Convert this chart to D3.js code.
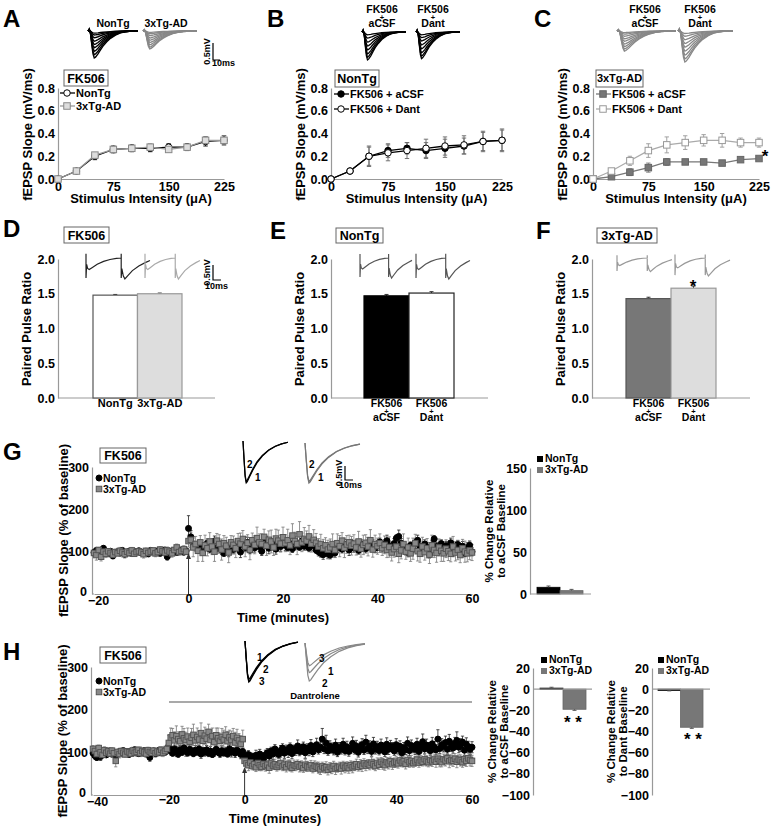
<!DOCTYPE html>
<html><head><meta charset="utf-8">
<script src="https://cdn.jsdelivr.net/npm/d3@7"></script>
<style>body{margin:0;background:#fff;}svg{display:block;}</style>
</head><body>
<script>
// ---------------- DATA ----------------
const stim = [0,25,50,75,100,125,150,175,200,225];
const stimTicks = [0,75,150,225];
const slopeTicks = [0,0.2,0.4,0.6,0.8];
// Panel A (FK506)
const aNonTg    = [0,0.07,0.20,0.26,0.27,0.27,0.28,0.28,0.33,0.34];
const aNonTgErr = [0,0.01,0.03,0.03,0.03,0.03,0.03,0.03,0.04,0.04];
const aTg       = [0,0.07,0.21,0.26,0.27,0.28,0.26,0.28,0.34,0.34];
const aTgErr    = [0,0.01,0.02,0.02,0.02,0.03,0.02,0.02,0.03,0.04];
// Panel B (NonTg)
const bAcsf     = [0,0.07,0.20,0.25,0.27,0.25,0.27,0.29,0.33,0.34];
const bAcsfErr  = [0,0.01,0.09,0.06,0.05,0.07,0.08,0.07,0.08,0.10];
const bDant     = [0,0.07,0.20,0.23,0.25,0.27,0.29,0.30,0.33,0.34];
const bDantErr  = [0,0.01,0.08,0.07,0.07,0.08,0.08,0.08,0.09,0.09];
// Panel C (3xTg-AD)
const cAcsf     = [0,0.02,0.06,0.10,0.15,0.15,0.15,0.14,0.17,0.18];
const cAcsfErr  = [0,0.01,0.03,0.04,0.03,0.02,0.02,0.02,0.01,0.01];
const cDant     = [0,0.07,0.16,0.25,0.30,0.32,0.34,0.34,0.32,0.32];
const cDantErr  = [0,0.02,0.04,0.06,0.07,0.06,0.05,0.06,0.04,0.04];
// Paired pulse panels
const ppTicks = [0,0.5,1.0,1.5,2.0];
const dCats = ["NonTg","3xTg-AD"];
const dVals = [1.48,1.50];
const dErr  = [0.01,0.01];
const efCats = [["FK506","+","aCSF"],["FK506","+","Dant"]];
const eVals = [1.47,1.51];
const eErr  = [0.02,0.02];
const fVals = [1.43,1.58];
const fErr  = [0.02,0.03];
// Panel G time course (-20..60 min, 0.5 min steps)
const gTicks = [-20,0,20,40,60];
const slopePctTicks = [0,100,200,300];
const gNonTg = [98,103,102,95,108,99,96,101,90,97,
100,97,103,94,99,101,96,98,100,102,
97,99,101,95,103,100,98,102,96,100,
104,88,99,101,103,98,100,104,99,102,
155,135,115,112,108,118,103,110,120,106,
112,125,108,117,104,96,111,100,119,105,
114,108,99,118,110,122,104,115,109,120,
112,101,117,125,108,114,121,106,118,112,
124,115,110,119,107,122,116,111,125,113,
118,109,121,114,104,100,96,93,98,95,
92,101,97,110,114,106,118,112,104,120,
109,115,103,118,111,107,121,113,117,108,
115,123,110,118,126,114,106,119,132,136,
120,112,104,98,115,109,121,127,113,105,
118,110,94,116,130,112,106,119,102,114,
108,121,99,111,117,104,113,96,109,115,
100];
const gNonTgErr = [6,5,7,4,6,5,8,5,6,4,
5,7,5,6,4,6,5,7,5,6,
4,6,5,7,5,6,4,5,6,7,
5,8,6,5,7,4,6,5,7,6,
30,15,10,8,12,9,11,7,10,9,
9,12,8,10,11,7,9,12,8,10,
11,9,13,8,10,12,9,11,10,8,
12,10,9,11,13,8,10,12,9,11,
10,12,8,11,9,13,10,8,12,9,
11,9,10,12,8,10,9,11,8,10,
9,11,10,8,12,9,11,10,13,9,
10,12,9,11,8,10,12,9,11,10,
12,9,11,10,13,9,10,12,8,15,
11,9,12,10,8,11,9,12,10,9,
10,12,9,11,8,10,12,9,11,10,
9,11,10,12,9,10,11,8,12,10,
10];
const gTg = [97,92,104,88,100,95,101,97,93,99,
96,102,98,94,100,97,103,95,99,101,
98,94,102,97,100,103,96,99,105,101,
98,103,100,96,104,110,99,102,106,100,
125,128,110,118,102,122,97,115,108,124,
112,100,126,118,105,120,114,98,122,116,
108,125,119,130,112,121,104,127,116,132,
122,118,135,114,128,124,110,131,126,119,
134,120,127,115,138,125,118,141,122,130,
126,136,119,128,121,112,118,108,115,105,
110,118,104,120,113,126,109,117,122,114,
119,110,124,107,116,121,112,127,105,118,
113,120,108,116,104,111,98,106,112,95,
103,118,100,110,96,107,120,101,95,112,
99,108,93,115,104,97,110,102,96,107,
101,95,112,98,104,92,108,100,96,103,
98];
const gTgErr = [8,12,6,10,7,9,6,8,10,7,
6,8,7,9,6,8,7,5,8,6,
7,9,6,8,7,5,8,6,7,9,
6,8,7,9,6,8,7,6,8,7,
14,18,22,18,25,16,20,24,18,21,
19,23,17,22,25,18,20,24,16,21,
22,18,25,20,24,19,23,17,21,26,
20,24,18,23,21,27,19,22,25,20,
24,20,26,22,28,21,25,30,22,27,
23,26,20,24,22,19,23,21,18,22,
20,24,18,22,25,19,23,21,17,22,
21,18,24,20,23,19,22,25,18,21,
19,22,17,21,18,24,20,19,23,21,
20,24,18,22,19,25,21,23,20,22,
19,23,21,24,18,22,20,25,19,21,
22,19,24,20,23,18,21,25,20,22,
19];
// Panel G bar summary
const groups = ["NonTg","3xTg-AD"];
const gBarVals = [8,4];
const gBarErr  = [1.5,1.5];
const gBarTicks = [0,50,100,150];
// Panel H time course (-40..60 min, 0.5 min steps)
const hTicks = [-40,-20,0,20,40,60];
const hNonTg = [98,92,88,95,90,101,97,94,99,103,
96,100,93,97,102,99,104,98,101,95,
103,99,106,100,97,102,99,104,101,98,
88,100,103,97,101,105,99,102,100,104,
115,104,98,108,101,96,106,100,110,103,
99,107,102,97,105,101,108,96,104,100,
106,98,103,95,100,107,101,97,104,99,
102,96,108,100,103,98,105,101,95,102,
92,85,95,88,90,83,93,87,96,90,
86,94,99,91,103,96,108,100,95,104,
110,98,106,101,112,97,108,104,115,102,
107,113,99,110,104,116,101,109,118,106,
112,131,108,122,103,114,110,105,117,100,
111,107,119,104,113,102,109,121,106,115,
100,112,118,105,124,109,114,102,120,108,
113,104,117,110,101,119,107,115,112,103,
118,108,114,99,111,106,121,104,116,110,
107,119,102,113,125,108,117,111,104,120,
112,106,131,109,118,114,123,107,126,115,
110,121,128,112,117,124,105,119,113,107,
112];
const hNonTgErr = [6,8,7,5,9,6,7,5,8,6,
7,5,6,8,5,7,6,5,7,6,
5,7,6,8,5,6,7,5,6,8,
9,6,5,7,6,5,7,6,5,6,
8,10,7,9,11,8,10,7,9,12,
8,10,9,7,11,8,9,10,7,9,
10,8,11,7,9,10,8,9,11,8,
10,7,9,11,8,10,9,7,10,8,
10,12,9,11,8,10,12,9,11,10,
9,11,10,12,9,13,10,11,9,12,
10,12,11,13,10,12,9,11,14,10,
12,11,13,10,12,14,11,12,15,10,
12,25,11,18,10,13,12,11,14,10,
12,11,14,10,13,11,12,15,10,13,
11,12,14,10,16,12,13,11,15,12,
13,10,14,12,11,15,12,13,11,10,
14,12,13,10,12,11,15,12,13,11,
12,14,11,13,18,12,14,12,11,15,
13,12,22,12,14,13,15,12,16,13,
12,14,20,13,15,14,12,15,13,12,
13];
const hTg = [108,103,96,110,100,94,105,99,102,97,
104,98,80,101,96,103,99,95,102,100,
97,104,99,101,106,98,103,100,97,105,
101,99,104,98,102,100,106,99,103,108,
122,135,140,128,138,131,126,142,133,129,
137,125,134,141,128,136,130,145,127,139,
132,148,129,138,124,140,133,127,136,130,
141,126,135,129,138,123,134,128,120,131,
80,74,70,76,68,72,65,75,70,66,
73,68,71,64,74,69,72,66,70,75,
67,71,65,73,69,64,70,68,72,66,
69,63,71,67,65,70,62,68,66,64,
60,67,63,65,59,66,62,68,61,64,
66,62,69,64,67,63,70,65,68,72,
66,71,68,74,69,73,70,76,72,68,
75,71,78,73,70,77,74,79,72,76,
78,74,81,76,79,73,82,77,80,75,
79,83,76,81,78,84,80,77,82,79,
83,78,85,80,77,84,81,86,79,82,
80,85,78,83,81,77,84,80,86,82,
80];
const hTgErr = [8,6,9,7,10,6,8,7,9,6,
7,8,14,6,9,7,8,6,7,9,
6,8,7,9,6,8,7,6,9,7,
8,6,7,9,6,8,7,9,6,8,
18,22,16,20,24,17,21,19,23,18,
20,16,22,25,18,21,19,24,17,20,
22,18,23,19,21,17,24,18,20,22,
19,23,17,21,18,24,20,16,19,21,
12,10,13,11,9,12,10,11,13,9,
11,12,10,13,11,9,12,10,11,13,
10,12,11,9,13,10,12,11,10,12,
11,10,13,12,9,11,10,12,11,13,
12,10,11,13,12,10,12,11,13,10,
11,13,10,12,11,12,10,13,11,12,
10,12,13,11,12,10,11,13,12,11,
12,11,10,13,12,11,13,10,12,11,
13,11,12,10,13,12,11,12,13,10,
12,13,11,12,10,14,12,11,13,12,
11,13,12,14,11,12,13,11,15,12,
13,12,14,11,13,12,15,13,12,14,
13];
// Panel H bar summaries
const h1Vals = [1,-19];
const h1Err  = [0.8,1];
const h2Vals = [-1,-36];
const h2Err  = [0.6,1];
const hBarTicks = [20,0,-20,-40,-60,-80,-100];
// Representative trace shapes (time ms, normalised amplitude)
const fepspShape = [[0,0],[1,0.08],[2,-0.1],[3,-0.5],[4,-0.85],[5,-1],[6,-0.97],[8,-0.85],[10,-0.7],[12,-0.56],[15,-0.4],[18,-0.27],[22,-0.15],[26,-0.07],[30,-0.03],[35,0],[40,0.01]];
const famANonTg = [0.08,0.15,0.25,0.38,0.5,0.62,0.75,0.88,1.0];
const famATg    = [0.06,0.12,0.2,0.3,0.4,0.5,0.6,0.7,0.78];
const famBAcsf  = [0.1,0.22,0.36,0.5,0.64,0.78,0.9,1.0];
const famBDant  = [0.1,0.2,0.32,0.46,0.6,0.74,0.86,0.95];
const famCAcsf  = [0.05,0.1,0.17,0.25,0.33,0.42,0.5,0.58,0.65];
const famCDant  = [0.08,0.17,0.28,0.4,0.52,0.65,0.78,0.9,1.0];
const ppShape = [[0,0.2],[0,-0.95],[0.4,-0.3],[1,-0.5],[2,-0.55],[4,-0.45],[7,-0.3],[11,-0.16],[15,-0.07],[19,-0.02],[22,0],[22,0.2],[22,-0.95],[22.4,-0.5],[23.3,-0.85],[24.3,-1],[26,-0.85],[29,-0.6],[33,-0.38],[37,-0.22],[40,-0.12]];
const ltpShape = [[0,0],[1,-0.45],[2,-0.85],[3,-1],[4,-0.97],[6,-0.86],[9,-0.7],[13,-0.52],[18,-0.36],[24,-0.22],[30,-0.13],[36,-0.07],[42,-0.03]];
const gTraceAmps = [1.0,0.96];
const hTraceAmpsN = [0.93,0.97,1.0];
const hTraceAmpsT = [0.78,1.0,0.6];

// ---------------- DRAWING ----------------
const W=773,H=828;
const FONT='"Liberation Sans", Arial, Helvetica, sans-serif';
const svg=d3.select('body').append('svg').attr('width',W).attr('height',H)
  .style('font-family',FONT).style('font-weight','bold');
svg.append('rect').attr('width',W).attr('height',H).attr('fill','#fff');

function T(x,y,s,size=13,anchor='start',fill='#000',rot=false){
  const t=svg.append('text').attr('x',x).attr('y',y).text(s)
    .attr('font-size',size).attr('font-weight','bold').attr('text-anchor',anchor).attr('fill',fill);
  if(rot) t.attr('transform',`rotate(-90 ${x} ${y})`);
  return t;
}
function box(x,y,w,h,label,size=12.5){
  svg.append('rect').attr('x',x).attr('y',y).attr('width',w).attr('height',h)
    .attr('fill','#fff').attr('stroke','#666').attr('stroke-width',1);
  T(x+w/2,y+h/2+size*0.36,label,size,'middle');
}
function styleAxis(sel,size){
  sel.attr('font-family',FONT).attr('font-size',size).attr('font-weight','bold');
  sel.select('.domain').attr('stroke','#999').attr('stroke-width',1.2);
  sel.selectAll('text').attr('fill','#000');
  return sel;
}
function mark(g,type,cx,cy,s,fill,stroke){
  if(type==='circle') g.append('circle').attr('cx',cx).attr('cy',cy).attr('r',s/2).attr('fill',fill).attr('stroke',stroke).attr('stroke-width',1);
  else g.append('rect').attr('x',cx-s/2).attr('y',cy-s/2).attr('width',s).attr('height',s).attr('fill',fill).attr('stroke',stroke).attr('stroke-width',1);
}
function errBar(g,x,y1,y2,cap,color,w){
  g.append('line').attr('x1',x).attr('x2',x).attr('y1',y1).attr('y2',y2).attr('stroke',color).attr('stroke-width',w);
  [y1,y2].forEach(yy=>g.append('line').attr('x1',x-cap).attr('x2',x+cap).attr('y1',yy).attr('y2',yy).attr('stroke',color).attr('stroke-width',w));
}
function traces(shape,amps,xr,yr,color,w=1){
  const x=d3.scaleLinear().domain(d3.extent(shape,d=>d[0])).range(xr);
  const y=d3.scaleLinear().domain([-1,0]).range(yr);
  const line=d3.line().x(d=>x(d[0])).y(d=>y(d[1]));
  amps.forEach(a=>{
    svg.append('path').attr('d',line(shape.map(p=>[p[0],p[1]*a]))).attr('fill','none')
      .attr('stroke',color).attr('stroke-width',w);
  });
}
function scaleBar(x,yTop,yBot,xRight,txtX,txtY){
  svg.append('path').attr('d',`M${x},${yTop}V${yBot}H${xRight}`).attr('fill','none').attr('stroke','#000').attr('stroke-width',1.2);
  T(x-3,(yTop+yBot)/2,'0.5mV',9,'middle','#000',true);
  T(txtX,txtY,'10ms',9,'start');
}

// ---- Stimulus-response panels (A,B,C)
function stimPanel(xr,yr,series,legX,legY,legGap){
  const x=d3.scaleLinear().domain([0,225]).range(xr);
  const y=d3.scaleLinear().domain([0,0.8]).range(yr);
  const g=svg.append('g');
  styleAxis(g.append('g').attr('transform',`translate(${xr[0]},0)`)
    .call(d3.axisLeft(y).tickValues(slopeTicks).tickFormat(d3.format('.1f')).tickSize(0).tickPadding(3)),12.5);
  styleAxis(g.append('g').attr('transform',`translate(0,${yr[0]})`)
    .call(d3.axisBottom(x).tickValues(stimTicks).tickFormat(d3.format('d')).tickSize(0).tickPadding(3)),12.5);
  series.forEach((s,k)=>{
    stim.forEach((d,i)=>{ if(s.err[i]>0) errBar(g,x(d),y(s.vals[i]-s.err[i]),y(s.vals[i]+s.err[i]),2.2,s.errColor,0.9); });
  });
  series.forEach((s,k)=>{
    g.append('path').attr('d',d3.line()(stim.map((d,i)=>[x(d),y(s.vals[i])]))).attr('fill','none').attr('stroke',s.line).attr('stroke-width',1.3);
    stim.forEach((d,i)=>mark(g,s.type,x(d),y(s.vals[i]),6.5,s.fill,s.stroke));
    const ly=legY+k*legGap;
    g.append('line').attr('x1',legX).attr('x2',legX+15).attr('y1',ly).attr('y2',ly).attr('stroke',s.line).attr('stroke-width',1.3);
    mark(g,s.type,legX+7,ly,6.5,s.fill,s.stroke);
    T(legX+16,ly+4,s.name,11);
  });
  T((xr[0]+xr[1])/2,203,'Stimulus Intensity (μA)',13,'middle');
  T(xr[0]-26,(yr[0]+yr[1])/2+1,'fEPSP Slope (mV/ms)',13,'middle','#000',true);
}

// A
T(3,27,'A',24);
T(113,27,'NonTg',10.5,'middle'); T(166,27,'3xTg-AD',10.5,'middle');
traces(fepspShape,famANonTg,[88,138],[58,31],'#000',1.4);
traces(fepspShape,famATg,[143,197],[54,31],'#888',1.4);
scaleBar(213,43,60,220,212,66);
box(64,70,44,16,'FK506');
stimPanel([58,224],[179,88],[
  {vals:aNonTg,err:aNonTgErr,type:'circle',fill:'#fff',stroke:'#000',line:'#000',errColor:'#000',name:'NonTg'},
  {vals:aTg,err:aTgErr,type:'square',fill:'#ddd',stroke:'#888',line:'#999',errColor:'#888',name:'3xTg-AD'}
],60,93,13);

// B
T(267,27,'B',24);
[[382,'aCSF'],[433,'Dant']].forEach(([cx,l])=>{T(cx,13,'FK506',10.5,'middle');T(cx,19.5,'+',7.5,'middle');T(cx,27,l,10.5,'middle');});
traces(fepspShape,famBAcsf,[362,406],[60,32],'#000',1.3);
traces(fepspShape,famBDant,[416,460],[60,32],'#000',1.3);
box(335,70,44,17,'NonTg');
stimPanel([331,502],[179,88],[
  {vals:bAcsf,err:bAcsfErr,type:'circle',fill:'#000',stroke:'#000',line:'#000',errColor:'#666',name:'FK506 + aCSF'},
  {vals:bDant,err:bDantErr,type:'circle',fill:'#fff',stroke:'#000',line:'#000',errColor:'#666',name:'FK506 + Dant'}
],334,94,15);

// C
T(534,27,'C',24);
[[645,'aCSF'],[700,'Dant']].forEach(([cx,l])=>{T(cx,13,'FK506',10.5,'middle');T(cx,19.5,'+',7.5,'middle');T(cx,27,l,10.5,'middle');});
traces(fepspShape,famCAcsf,[617,676],[62,31],'#888',1.3);
traces(fepspShape,famCDant,[678,733],[62,31],'#888',1.3);
box(596,70,47,17,'3xTg-AD',11);
stimPanel([593,759],[179,88],[
  {vals:cAcsf,err:cAcsfErr,type:'square',fill:'#777',stroke:'#666',line:'#777',errColor:'#777',name:'FK506 + aCSF'},
  {vals:cDant,err:cDantErr,type:'square',fill:'#fff',stroke:'#999',line:'#aaa',errColor:'#999',name:'FK506 + Dant'}
],596,94,15);
T(765,162,'*',17,'middle');

// ---- Paired pulse panels (D,E,F)
function ppPanel(axisX,bandR,axisEnd,cats,vals,errs,fills,strokes,labelFn){
  const y=d3.scaleLinear().domain([0,2]).range([398,259]);
  const x=d3.scaleBand().domain(d3.range(cats.length)).range(bandR).padding(0);
  const g=svg.append('g');
  styleAxis(g.append('g').attr('transform',`translate(${axisX},0)`)
    .call(d3.axisLeft(y).tickValues(ppTicks).tickFormat(d3.format('.1f')).tickSize(0).tickPadding(3)),12.5);
  g.append('line').attr('x1',axisX).attr('x2',axisEnd).attr('y1',398).attr('y2',398).attr('stroke','#999').attr('stroke-width',1.2);
  vals.forEach((v,i)=>{
    const cx=x(i)+x.bandwidth()/2;
    g.append('line').attr('x1',cx).attr('x2',cx).attr('y1',y(v)).attr('y2',y(v+errs[i])).attr('stroke','#333').attr('stroke-width',1);
    g.append('line').attr('x1',cx-2).attr('x2',cx+2).attr('y1',y(v+errs[i])).attr('y2',y(v+errs[i])).attr('stroke','#333').attr('stroke-width',1);
    g.append('rect').attr('x',x(i)).attr('y',y(v)).attr('width',x.bandwidth()).attr('height',398-y(v))
      .attr('fill',fills[i]).attr('stroke',strokes[i]).attr('stroke-width',1.2);
    labelFn(cats[i],cx);
  });
  T(axisX-27,329,'Paired Pulse Ratio',13,'middle','#000',true);
  return {x,y};
}
// D
T(3,237,'D',24);
box(64,227,45,16,'FK506');
traces(ppShape,[1],[86,150],[279,258],'#222',1.2);
traces(ppShape,[1],[145,200],[279,258],'#aaa',1.2);
scaleBar(213,265,280,221,205,289);
ppPanel(58,[93,182],215,dCats,dVals,dErr,['#fff','#ddd'],['#555','#999'],(c,cx)=>T(cx,407,c,11,'middle'));
// E
T(270,239,'E',24);
box(336,228,47,15,'NonTg');
traces(ppShape,[1],[360,412],[278,258],'#555',1.2);
traces(ppShape,[1],[416,470],[279,258],'#555',1.2);
const efLabel=(c,cx)=>{T(cx,407,c[0],10.5,'middle');T(cx,413.5,c[1],7.5,'middle');T(cx,421,c[2],10.5,'middle');};
ppPanel(331,[364,454],488,efCats,eVals,eErr,['#000','#fff'],['#000','#222'],efLabel);
// F
T(536,239,'F',24);
box(597,228,60,15,'3xTg-AD');
traces(ppShape,[0.8],[617,672],[275,258],'#999',1.2);
traces(ppShape,[1],[675,730],[276,258],'#999',1.2);
ppPanel(592,[626,716],750,efCats,fVals,fErr,['#777','#ddd'],['#555','#999'],efLabel);
T(693,292,'*',17,'middle');

// ---- Time course panels (G,H)
function tsPanel(dom,xr,yr,ticks,series,arrowTop){
  const x=d3.scaleLinear().domain(dom).range(xr);
  const y=d3.scaleLinear().domain([0,300]).range(yr);
  const g=svg.append('g');
  const ya=styleAxis(g.append('g').attr('transform',`translate(${xr[0]-2},0)`)
    .call(d3.axisLeft(y).tickValues(slopePctTicks).tickFormat(d3.format('d')).tickSize(0).tickPadding(3)),12.5);
  ya.selectAll('.tick text').filter(d=>d===0).attr('dy','0.1em').attr('x',-5);
  const xa=styleAxis(g.append('g').attr('transform',`translate(0,${yr[0]})`)
    .call(d3.axisBottom(x).tickValues(ticks).tickFormat(d3.format('d')).tickSize(0).tickPadding(0)),12.5);
  xa.selectAll('.tick text').filter(d=>d===dom[0]).attr('dx',4).attr('dy','0.85em');
  g.append('line').attr('x1',xr[0]-2).attr('x2',xr[0]).attr('y1',yr[0]).attr('y2',yr[0]).attr('stroke','#999').attr('stroke-width',1.2);
  series.forEach(s=>{
    s.vals.forEach((v,i)=>{const t=dom[0]+i*0.5; errBar(g,x(t),y(v-s.err[i]),y(v+s.err[i]),1.6,s.errColor,0.8);});
  });
  series.forEach(s=>{
    s.vals.forEach((v,i)=>{const t=dom[0]+i*0.5; mark(g,s.type,x(t),y(v),s.type==='circle'?6:5.5,s.fill,s.stroke);});
  });
  // arrow at time 0
  const ax=x(0);
  g.append('line').attr('x1',ax).attr('x2',ax).attr('y1',yr[0]).attr('y2',arrowTop+4).attr('stroke','#333').attr('stroke-width',1);
  g.append('path').attr('d',`M${ax-2.5},${arrowTop+6}L${ax},${arrowTop}L${ax+2.5},${arrowTop+6}Z`).attr('fill','#333');
  T(x((dom[0]+60)/2+ (dom[0]===-40?-2:0)),yr[0]+28,'Time (minutes)',13,'middle');
  T(xr[0]-26,(yr[0]+yr[1])/2,'fEPSP Slope (% of baseline)',13,'middle','#000',true);
  return {x,y};
}
function tsLegend(x,y){
  const g=svg.append('g');
  mark(g,'circle',x+3,y,6,'#000','#000');
  T(x+7,y+4,'NonTg',10.5);
  mark(g,'square',x+3,y+11,5.5,'#888','#555');
  T(x+7,y+15,'3xTg-AD',10.5);
}
function changeBars(axisX,bandR,axisEnd,dom,yr,ticks,vals,errs,legX,legY,title2){
  const y=d3.scaleLinear().domain(dom).range(yr);
  const x=d3.scaleBand().domain(groups).range(bandR).padding(0);
  const g=svg.append('g');
  styleAxis(g.append('g').attr('transform',`translate(${axisX},0)`)
    .call(d3.axisLeft(y).tickValues(ticks).tickFormat(d3.format('d')).tickSize(0).tickPadding(3)),12.5);
  const y0=y(0);
  groups.forEach((c,i)=>{
    const v=vals[i], cx=x(c)+x.bandwidth()/2, top=Math.min(y(v),y0), h=Math.abs(y(v)-y0);
    g.append('rect').attr('x',x(c)).attr('y',top).attr('width',x.bandwidth()).attr('height',Math.max(h,1.2))
      .attr('fill',i===0?'#000':'#777').attr('stroke',i===0?'#000':'#666').attr('stroke-width',0.8);
    const ye=y(v+(v>=0?errs[i]:-errs[i]));
    g.append('line').attr('x1',cx).attr('x2',cx).attr('y1',y(v)).attr('y2',ye).attr('stroke','#555');
    g.append('line').attr('x1',cx-2).attr('x2',cx+2).attr('y1',ye).attr('y2',ye).attr('stroke','#555');
  });
  g.append('line').attr('x1',axisX).attr('x2',axisEnd).attr('y1',y0).attr('y2',y0).attr('stroke','#999').attr('stroke-width',1.2);
  // legend
  g.append('rect').attr('x',legX).attr('y',legY-6).attr('width',6).attr('height',6).attr('fill','#000');
  T(legX+8,legY,'NonTg',10.5);
  g.append('rect').attr('x',legX).attr('y',legY+5).attr('width',6).attr('height',6).attr('fill','#777');
  T(legX+8,legY+11,'3xTg-AD',10.5);
  const cy=(yr[0]+yr[1])/2;
  T(axisX-37,cy,'% Change Relative',11.5,'middle','#000',true);
  T(axisX-25,cy,title2,11.5,'middle','#000',true);
  return {x,y};
}

// G
T(3,460,'G',24);
box(100,448,46,15,'FK506');
tsPanel([-20,60],[94,472],[594,467],gTicks,[
  {vals:gNonTg,err:gNonTgErr,type:'circle',fill:'#000',stroke:'#000',errColor:'#222'},
  {vals:gTg,err:gTgErr,type:'square',fill:'#888',stroke:'#555',errColor:'#777'}
],553);
tsLegend(96,478);
traces(ltpShape,gTraceAmps,[243,288],[483,441],'#000',1.2);
traces(ltpShape,gTraceAmps,[305,360],[483,443],'#777',1.2);
T(247,468,'2',10); T(255,481,'1',10); T(309,468,'2',10); T(318,481,'1',10);
scaleBar(345,466,480,353,339,488);
changeBars(530,[537,583],591,[0,150],[594,468],gBarTicks,gBarVals,gBarErr,537,462,'to aCSF Baseline');

// H
T(3,660,'H',24);
box(100,647,46,16,'FK506');
tsPanel([-40,60],[93,472],[795,667],hTicks,[
  {vals:hNonTg,err:hNonTgErr,type:'circle',fill:'#000',stroke:'#000',errColor:'#222'},
  {vals:hTg,err:hTgErr,type:'square',fill:'#888',stroke:'#555',errColor:'#777'}
],767);
tsLegend(96,681);
svg.append('line').attr('x1',169).attr('x2',472).attr('y1',702).attr('y2',702).attr('stroke','#555').attr('stroke-width',1.2);
T(315,699,'Dantrolene',9.5,'middle');
traces(ltpShape,hTraceAmpsN,[245,298],[682,641],'#000',1.2);
traces(ltpShape,hTraceAmpsT,[305,365],[681,643],'#888',1.2);
T(257,661,'1',10); T(263,673,'2',10); T(259,685,'3',10);
T(319,662,'3',10); T(328,675,'1',10); T(322,687,'2',10);
changeBars(533,[540,586],592,[-100,20],[795,668],hBarTicks,h1Vals,h1Err,541,663,'to aCSF Baseline');
T(573,728,'* *',17,'middle');
changeBars(652,[658,703],710,[-100,20],[795,668],hBarTicks,h2Vals,h2Err,658,663,'to Dant Baseline');
T(693,745,'* *',17,'middle');
</script>
</body></html>
